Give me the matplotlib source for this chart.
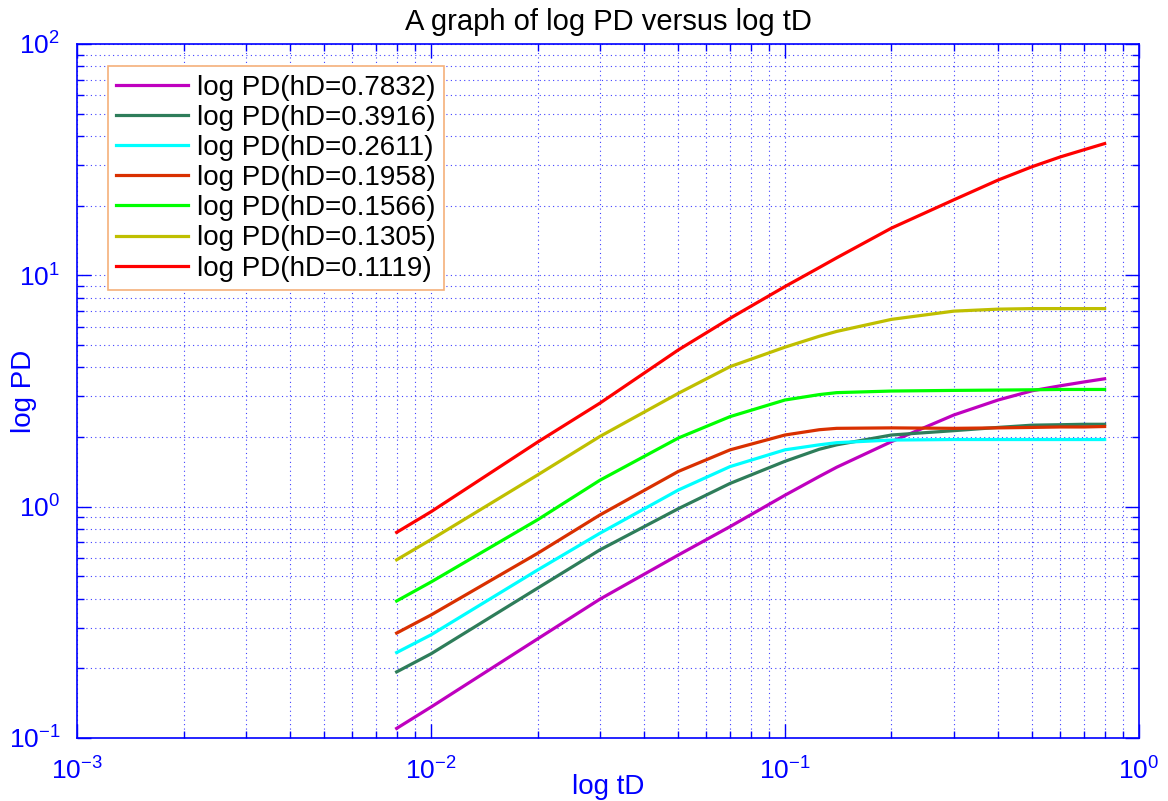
import numpy as np
import matplotlib
matplotlib.use("Agg")
import matplotlib.pyplot as plt

plt.rcParams["font.family"] = ["Liberation Sans", "DejaVu Sans"]
plt.rcParams["mathtext.default"] = "regular"
plt.rcParams["axes.unicode_minus"] = False

# dimensionless time
tD = [0.008, 0.01, 0.02, 0.03, 0.05, 0.07, 0.1, 0.125, 0.14, 0.2, 0.3, 0.4, 0.5, 0.6, 0.7, 0.8]

hD = ["0.7832", "0.3916", "0.2611", "0.1958", "0.1566", "0.1305", "0.1119"]

pd_07832 = [0.110, 0.136, 0.268, 0.398, 0.618, 0.820, 1.12, 1.35, 1.48, 1.91, 2.49, 2.89, 3.17, 3.33, 3.46, 3.57]
pd_03916 = [0.193, 0.231, 0.444, 0.650, 0.98, 1.26, 1.57, 1.77, 1.85, 2.04, 2.13, 2.20, 2.25, 2.26, 2.27, 2.27]
pd_02611 = [0.234, 0.279, 0.532, 0.767, 1.18, 1.49, 1.76, 1.85, 1.89, 1.94, 1.95, 1.95, 1.95, 1.95, 1.95, 1.95]
pd_01958 = [0.284, 0.340, 0.628, 0.920, 1.42, 1.76, 2.04, 2.15, 2.18, 2.19, 2.18, 2.19, 2.20, 2.21, 2.21, 2.22]
pd_01566 = [0.391, 0.472, 0.877, 1.30, 1.98, 2.45, 2.89, 3.05, 3.11, 3.16, 3.18, 3.19, 3.20, 3.21, 3.21, 3.21]
pd_01305 = [0.589, 0.720, 1.37, 2.01, 3.09, 4.03, 4.89, 5.45, 5.72, 6.45, 7.00, 7.14, 7.18, 7.18, 7.18, 7.18]
pd_01119 = [0.774, 0.950, 1.90, 2.80, 4.76, 6.52, 8.94, 10.8, 11.9, 16.0, 21.2, 25.8, 29.5, 32.5, 34.9, 37.1]

series = [pd_07832, pd_03916, pd_02611, pd_01958, pd_01566, pd_01305, pd_01119]
colors = ["#BF00BF", "#2E7D5A", "#00FFFF", "#D93000", "#00FF00", "#BFBF00", "#FF0000"]

fig = plt.figure(figsize=(11.68, 8.01), dpi=100)
ax = fig.add_axes([0.0659, 0.0787, 0.9092, 0.8664])

for h, vals, c in zip(hD, series, colors):
    ax.plot(tD, vals, color=c, lw=2.3, label="log PD(hD=" + h + ")")

ax.set_xscale("log")
ax.set_yscale("log")
ax.set_xlim(1e-3, 1e0)
ax.set_ylim(1e-1, 1e2)

blue = "#0000FF"
ax.grid(True, which="both", color=blue, linestyle=(0, (1, 3)), linewidth=0.8, alpha=0.75)
for s in ax.spines.values():
    s.set_color(blue)
    s.set_linewidth(1.2)
ax.tick_params(which="both", direction="in", top=True, right=True, colors=blue)
ax.tick_params(which="major", length=10, width=1, labelsize=19)
ax.tick_params(axis="x", which="major", pad=14)
ax.tick_params(axis="y", which="major", pad=12)
ax.tick_params(which="minor", length=5, width=1)

ax.set_title("A graph of log PD versus log tD", fontsize=21, pad=10)
ax.set_xlabel("log tD", color=blue, fontsize=20)
ax.set_ylabel("log PD", color=blue, fontsize=20)
ax.xaxis.set_label_coords(0.5, -0.052)
ax.yaxis.set_label_coords(-0.038, 0.5)

leg = ax.legend(loc="upper left", bbox_to_anchor=(0.029, 0.968), fontsize=20,
                frameon=True, fancybox=False, borderaxespad=0, handlelength=2.6,
                handletextpad=0.3, labelspacing=0.15, borderpad=0.3)
leg.get_frame().set_edgecolor("#F5B07A")
leg.get_frame().set_linewidth(1.2)
leg.get_frame().set_alpha(1)

fig.savefig("out.png", dpi=100)
